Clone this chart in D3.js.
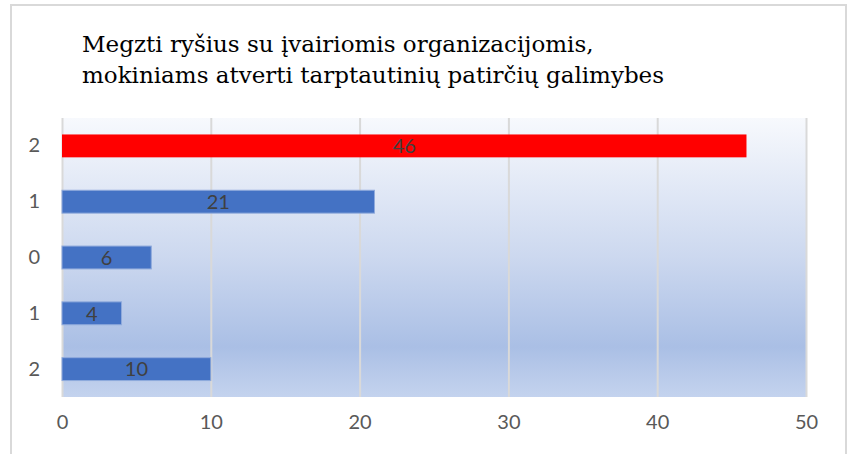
<!DOCTYPE html>
<html>
<head>
<meta charset="utf-8">
<script src="https://cdn.jsdelivr.net/npm/d3@7"></script>
<style>
  body { margin: 0; background: #fff; }
</style>
</head>
<body>
<div class="d3Chart"></div>
<script>
// duomenys (iš viršaus į apačią)
var categories = ["2", "1", "0", "1", "2"];
var values = [46, 21, 6, 4, 10];
var barColors = ["#FF0000", "#4472C4", "#4472C4", "#4472C4", "#4472C4"];
var xTicks = [0, 10, 20, 30, 40, 50];
var titleLines = [
  "Megzti ryšius su įvairiomis organizacijomis,",
  "mokiniams atverti tarptautinių patirčių galimybes"
];

var width = 852;
var height = 454;
var plot = { left: 62, top: 118, right: 806, bottom: 397 };

var svg = d3
  .select(".d3Chart")
  .append("svg")
  .attr("width", width)
  .attr("height", height);

// rėmelis
svg.append("path")
  .attr("d", "M11,460 V5 H846 V460")
  .attr("fill", "none")
  .attr("stroke", "#D9D9D9")
  .attr("stroke-width", 2);

// pavadinimas
svg.append("g")
  .selectAll("text")
  .data(titleLines)
  .enter()
  .append("text")
  .attr("x", 82)
  .attr("y", (d, i) => 52 + i * 31)
  .style("font-family", "'DejaVu Serif', Georgia, serif")
  .style("font-size", "23px")
  .style("fill", "#000")
  .text((d) => d);

// gradientas
var defs = svg.append("defs");
var grad = defs.append("linearGradient")
  .attr("id", "bg")
  .attr("x1", 0).attr("y1", 0).attr("x2", 0).attr("y2", 1);
grad.append("stop").attr("offset", "0%").attr("stop-color", "#F7F9FD");
grad.append("stop").attr("offset", "50%").attr("stop-color", "#CCD8EF");
grad.append("stop").attr("offset", "82%").attr("stop-color", "#AABFE5");
grad.append("stop").attr("offset", "100%").attr("stop-color", "#C4D3EE");

// skalės
var xScale = d3.scaleLinear().domain([0, 50]).range([plot.left, plot.right]);
var yScale = d3.scaleBand()
  .domain(d3.range(categories.length))
  .range([plot.top, plot.bottom])
  .paddingInner(0.59)
  .paddingOuter(0.295);

svg.append("rect")
  .attr("x", plot.left)
  .attr("y", plot.top)
  .attr("width", plot.right - plot.left)
  .attr("height", plot.bottom - plot.top)
  .attr("fill", "url(#bg)");

// tinklelis
const xAxis = d3.axisBottom(xScale)
  .tickValues(xTicks)
  .tickSize(-(plot.bottom - plot.top))
  .tickPadding(18);
const gx = svg.append("g")
  .attr("transform", `translate(0, ${plot.bottom})`)
  .call(xAxis);
gx.select(".domain").remove();
gx.selectAll("line").style("stroke", "#D9D9D9").style("stroke-width", 2);
gx.selectAll("text")
  .style("font-family", "Lato, 'Open Sans', sans-serif")
  .style("font-size", "20px")
  .style("fill", "#595959");

// Y ašis
const yAxis = d3.axisLeft(yScale)
  .tickSize(0)
  .tickPadding(22)
  .tickFormat((d) => categories[d]);
const gy = svg.append("g")
  .attr("transform", `translate(${plot.left}, 0)`)
  .call(yAxis);
gy.select(".domain").remove();
gy.selectAll("text")
  .style("font-family", "Lato, 'Open Sans', sans-serif")
  .style("font-size", "20px")
  .style("fill", "#595959");

// stulpeliai
svg.append("g")
  .selectAll("rect")
  .data(values)
  .enter()
  .append("rect")
  .attr("x", xScale(0))
  .attr("y", (d, i) => yScale(i))
  .attr("width", (d) => xScale(d) - xScale(0))
  .attr("height", yScale.bandwidth())
  .attr("fill", (d, i) => barColors[i])
  .attr("stroke", (d, i) => (i === 0 ? "none" : "#8FAADC"))
  .attr("stroke-width", 1);

// reikšmės
svg.append("g")
  .selectAll("text")
  .data(values)
  .enter()
  .append("text")
  .attr("x", (d) => (xScale(0) + xScale(d)) / 2)
  .attr("y", (d, i) => yScale(i) + yScale.bandwidth() / 2)
  .attr("dy", "0.36em")
  .attr("text-anchor", "middle")
  .style("font-family", "Lato, 'Open Sans', sans-serif")
  .style("font-size", "20px")
  .style("fill", "#404040")
  .text((d) => d);
</script>
</body>
</html>
